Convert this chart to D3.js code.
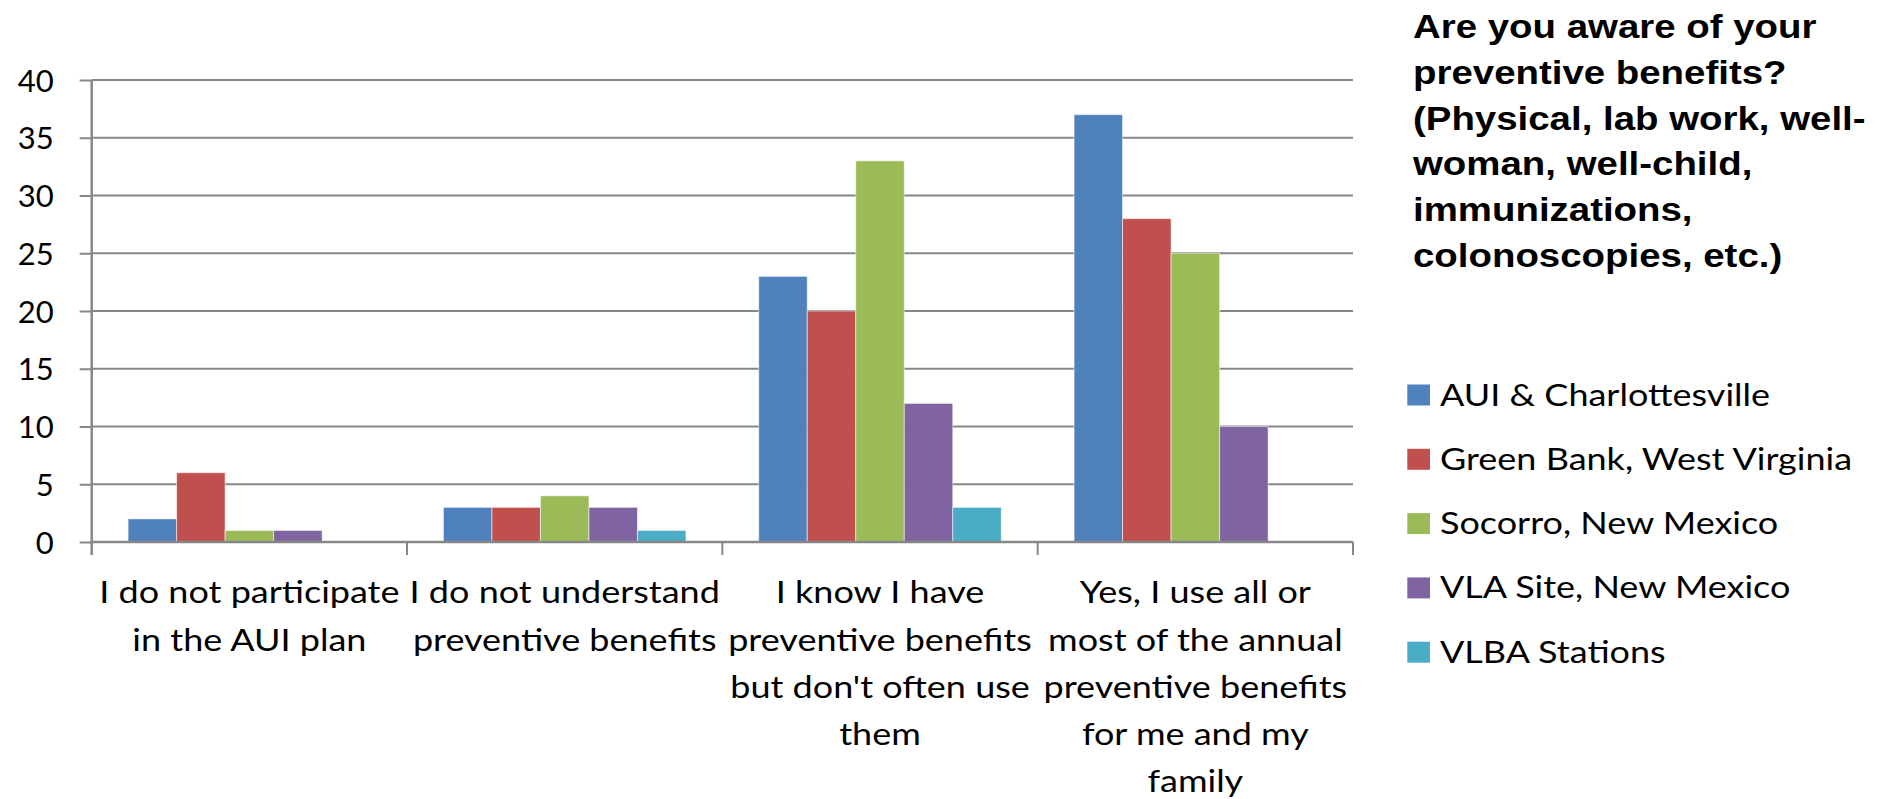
<!DOCTYPE html>
<html>
<head>
<meta charset="utf-8">
<script src="https://cdn.jsdelivr.net/npm/d3@7"></script>
<style>
  html, body { margin: 0; padding: 0; background: #fff; }
  svg { display: block; }
</style>
</head>
<body>
<svg id="chart" width="1895" height="799"></svg>
<script>
// Survey answers (category axis), one line per array entry
const categories = [
  ["I do not participate", "in the AUI plan"],
  ["I do not understand", "preventive benefits"],
  ["I know I have", "preventive benefits", "but don't often use", "them"],
  ["Yes, I use all or", "most of the annual", "preventive benefits", "for me and my", "family"]
];

// Locations (series)
const seriesNames = [
  "AUI & Charlottesville",
  "Green Bank, West Virginia",
  "Socorro, New Mexico",
  "VLA Site, New Mexico",
  "VLBA Stations"
];

// Response counts per location, in category order
const aui       = [2, 3, 23, 37];
const greenBank = [6, 3, 20, 28];
const socorro   = [1, 4, 33, 25];
const vlaSite   = [1, 3, 12, 10];
const vlba      = [0, 1, 3, 0];

const seriesValues = [aui, greenBank, socorro, vlaSite, vlba];
const seriesColors = ["#4F81BD", "#C0504D", "#9BBB59", "#8064A2", "#4BACC6"];

const yTicks = [0, 5, 10, 15, 20, 25, 30, 35, 40];

const titleLines = [
  "Are you aware of your",
  "preventive benefits?",
  "(Physical, lab work, well-",
  "woman, well-child,",
  "immunizations,",
  "colonoscopies, etc.)"
];

// ---- layout ----
const plot = { left: 91.7, right: 1353, top: 80, bottom: 542 };
const bodyFont = "Lato, 'Open Sans', sans-serif";
const bodySize = 30;
const textStretch = 1.2;

const svg = d3.select("#chart");

const y = d3.scaleLinear().domain([0, 40]).range([plot.bottom, plot.top]);
const catKeys = categories.map((c, i) => i);
const x0 = d3.scaleBand().domain(catKeys).range([plot.left, plot.right]).padding(0);
const x1 = d3.scaleBand().domain(seriesNames.map((s, i) => i))
  .range([0, x0.bandwidth()]).paddingInner(0).paddingOuter(0.75);

// gridlines
svg.append("g")
  .selectAll("line")
  .data(yTicks.filter(t => t > 0))
  .join("line")
  .attr("x1", plot.left).attr("x2", plot.right)
  .attr("y1", d => y(d)).attr("y2", d => y(d))
  .attr("stroke", "#878787").attr("stroke-width", 2);

// bars
const groups = svg.append("g")
  .selectAll("g")
  .data(catKeys)
  .join("g")
  .attr("transform", c => `translate(${x0(c)},0)`);

groups.selectAll("rect")
  .data(c => seriesValues.map((vals, s) => ({ s, v: vals[c] })))
  .join("rect")
  .attr("x", d => x1(d.s))
  .attr("width", x1.bandwidth())
  .attr("y", d => y(d.v))
  .attr("height", d => y(0) - y(d.v))
  .attr("fill", d => seriesColors[d.s])
  .attr("stroke", "rgba(255,255,255,0.55)")
  .attr("stroke-width", d => d.v > 0 ? 1 : 0);

// y axis
const yAxis = d3.axisLeft(y).tickValues(yTicks).tickSize(12).tickPadding(26);
const yg = svg.append("g")
  .attr("transform", `translate(${plot.left},0)`)
  .call(yAxis);
yg.select(".domain").remove();
yg.selectAll(".tick line").attr("stroke", "#878787").attr("stroke-width", 2);
yg.selectAll(".tick text")
  .attr("font-family", bodyFont)
  .attr("font-size", 31)
  .attr("fill", "#000")
  .attr("dy", "0.36em");
yg.append("line")
  .attr("x1", 0).attr("x2", 0)
  .attr("y1", plot.top).attr("y2", plot.bottom + 13)
  .attr("stroke", "#878787").attr("stroke-width", 2.5);

// x axis line and category ticks
svg.append("line")
  .attr("x1", plot.left).attr("x2", plot.right)
  .attr("y1", plot.bottom).attr("y2", plot.bottom)
  .attr("stroke", "#878787").attr("stroke-width", 2.5);
const boundaries = catKeys.map(c => x0(c)).concat([plot.right]);
svg.append("g")
  .selectAll("line")
  .data(boundaries.slice(1))
  .join("line")
  .attr("x1", d => d).attr("x2", d => d)
  .attr("y1", plot.bottom).attr("y2", plot.bottom + 13)
  .attr("stroke", "#878787").attr("stroke-width", 2);

// category labels
const lineGap = 47.3;
const catLabels = svg.append("g")
  .selectAll("g")
  .data(catKeys)
  .join("g")
  .attr("transform", c => `translate(${x0(c) + x0.bandwidth() / 2},603.3) scale(${textStretch},1)`);
catLabels.selectAll("text")
  .data(c => categories[c])
  .join("text")
  .attr("x", 0)
  .attr("y", (d, i) => i * lineGap)
  .attr("text-anchor", "middle")
  .attr("font-family", bodyFont)
  .attr("font-size", bodySize)
  .attr("fill", "#000")
  .text(d => d);

// title
const title = svg.append("g")
  .attr("transform", `translate(1413,38.3) scale(1.13,1)`);
title.selectAll("text")
  .data(titleLines)
  .join("text")
  .attr("x", 0)
  .attr("y", (d, i) => i * 45.7)
  .attr("font-family", "'Liberation Sans', Arial, sans-serif")
  .attr("font-weight", "bold")
  .attr("font-size", 34)
  .attr("fill", "#000")
  .text(d => d);

// legend
const legend = svg.append("g")
  .selectAll("g")
  .data(seriesNames)
  .join("g")
  .attr("transform", (d, i) => `translate(1407.3,${395 + i * 64.3})`);
legend.append("rect")
  .attr("x", 0).attr("y", -10.5)
  .attr("width", 22.7).attr("height", 21)
  .attr("fill", (d, i) => seriesColors[i]);
legend.append("text")
  .attr("transform", `translate(32.7,10.5) scale(${textStretch},1)`)
  .attr("font-family", bodyFont)
  .attr("font-size", bodySize)
  .attr("fill", "#000")
  .text(d => d);
</script>
</body>
</html>
